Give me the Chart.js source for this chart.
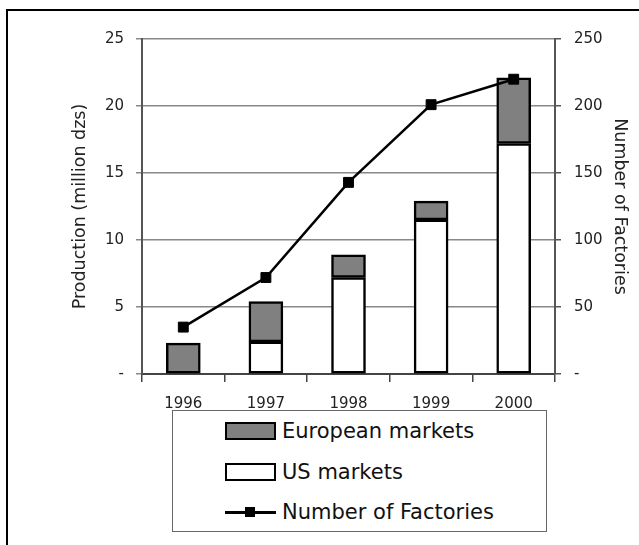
<!DOCTYPE html>
<html>
<head>
<meta charset="utf-8">
<script src="https://cdn.jsdelivr.net/npm/chart.js@4"></script>
<style>
  body { margin: 0; background: #fff; }
  #wrap { position: relative; width: 639px; height: 545px; overflow: hidden; }
  #frame { position: absolute; left: 6px; top: 9px; width: 700px; height: 700px;
           border-left: 2px solid #000; border-top: 2px solid #000; pointer-events: none; }
  #legend { position: absolute; left: 172px; top: 410px; width: 373px; height: 120px;
            background: #fff; border: 1.5px solid #666; font-family: 'DejaVu Sans'; font-size: 21px; color: #111; }
  .row { position: absolute; left: 52px; height: 22px; display: flex; align-items: center; }
  .sw { width: 51px; height: 18px; box-sizing: border-box; border: 2.5px solid #000; margin-right: 6px; position: relative; }
  .sw.line { border: none; }
  .sw.line::before { content: ''; position: absolute; left: 0; right: 0; top: 8px; height: 2.5px; background: #000; }
  .sw.line::after { content: ''; position: absolute; left: 20px; top: 4px; width: 10px; height: 10px; background: #000; }
</style>
</head>
<body>
<div id="wrap">
  <canvas id="chart" width="639" height="545"></canvas>
  <div id="frame"></div>
  <div id="legend"></div>
</div>
<script>
const years = ['1996', '1997', '1998', '1999', '2000'];
const usMarkets = [0, 2.4, 7.2, 11.5, 17.2];
const europeanMarkets = [2.3, 3.0, 1.7, 1.4, 4.9];
const factories = [35, 72, 143, 201, 220];
const productionTicks = [0, 5, 10, 15, 20, 25];
const factoryTicks = [0, 50, 100, 150, 200, 250];

Chart.defaults.font.family = 'DejaVu Sans';
Chart.defaults.color = '#222';

const dashZero = v => (v === 0 ? '-' : v);

const chart = new Chart(document.getElementById('chart'), {
    data: {
        labels: years,
        datasets: [
            {
                type: 'line',
                label: 'Number of Factories',
                data: factories,
                yAxisID: 'y1',
                borderColor: '#000',
                borderWidth: 2.5,
                pointStyle: 'rect',
                pointRadius: 7,
                pointBackgroundColor: '#000',
                pointBorderColor: '#000',
                pointBorderWidth: 1,
                tension: 0,
                order: 0
            },
            {
                type: 'bar',
                label: 'US markets',
                data: usMarkets,
                backgroundColor: '#fff',
                borderColor: '#000',
                borderWidth: 2.5,
                borderSkipped: false,
                barThickness: 34,
                stack: 'p',
                order: 1
            },
            {
                type: 'bar',
                label: 'European markets',
                data: europeanMarkets,
                backgroundColor: '#808080',
                borderColor: '#000',
                borderWidth: 2.5,
                borderSkipped: false,
                barThickness: 34,
                stack: 'p',
                order: 2
            }
        ]
    },
    options: {
        responsive: false,
        animation: false,
        layout: { padding: { top: 39 } },
        plugins: { legend: { display: false }, tooltip: { enabled: false } },
        scales: {
            x: {
                stacked: true,
                offset: true,
                grid: { offset: true, drawOnChartArea: false, tickLength: 8, color: '#444', lineWidth: 1.5 },
                border: { color: '#444', width: 2 },
                ticks: { font: { size: 15 }, padding: 13 },
                afterFit: s => { s.height = 171; }
            },
            y: {
                stacked: true,
                position: 'left',
                min: 0,
                max: 25,
                afterBuildTicks: s => { s.ticks = productionTicks.map(v => ({ value: v })); },
                ticks: { font: { size: 15 }, padding: 12, callback: dashZero },
                grid: { color: '#888', lineWidth: 1.5, tickLength: 6 },
                border: { color: '#555', width: 2 },
                title: { display: true, text: 'Production (million dzs)', font: { size: 17.5 }, padding: { top: 70, bottom: 0 } },
                afterFit: s => { s.width = 142; }
            },
            y1: {
                position: 'right',
                min: 0,
                max: 250,
                afterBuildTicks: s => { s.ticks = factoryTicks.map(v => ({ value: v })); },
                ticks: { font: { size: 15 }, padding: 13, callback: dashZero },
                grid: { drawOnChartArea: false, color: '#555', lineWidth: 1.5, tickLength: 6 },
                border: { color: '#555', width: 2 },
                title: { display: true, text: 'Number of Factories', font: { size: 17.5 }, padding: { top: 9, bottom: 0 } },
                afterFit: s => { s.width = 84; }
            }
        }
    }
});

// legend box, built from the chart's own datasets
const legendEl = document.getElementById('legend');
const legendOrder = ['European markets', 'US markets', 'Number of Factories'];
const rowTops = [9, 50, 90];
legendOrder.forEach((name, i) => {
    const ds = chart.data.datasets.find(d => d.label === name);
    const row = document.createElement('div');
    row.className = 'row';
    row.style.top = rowTops[i] + 'px';
    const sw = document.createElement('div');
    sw.className = ds.type === 'line' ? 'sw line' : 'sw';
    if (ds.type !== 'line') sw.style.background = ds.backgroundColor;
    const txt = document.createElement('span');
    txt.textContent = ds.label;
    row.appendChild(sw);
    row.appendChild(txt);
    legendEl.appendChild(row);
});
</script>
</body>
</html>
